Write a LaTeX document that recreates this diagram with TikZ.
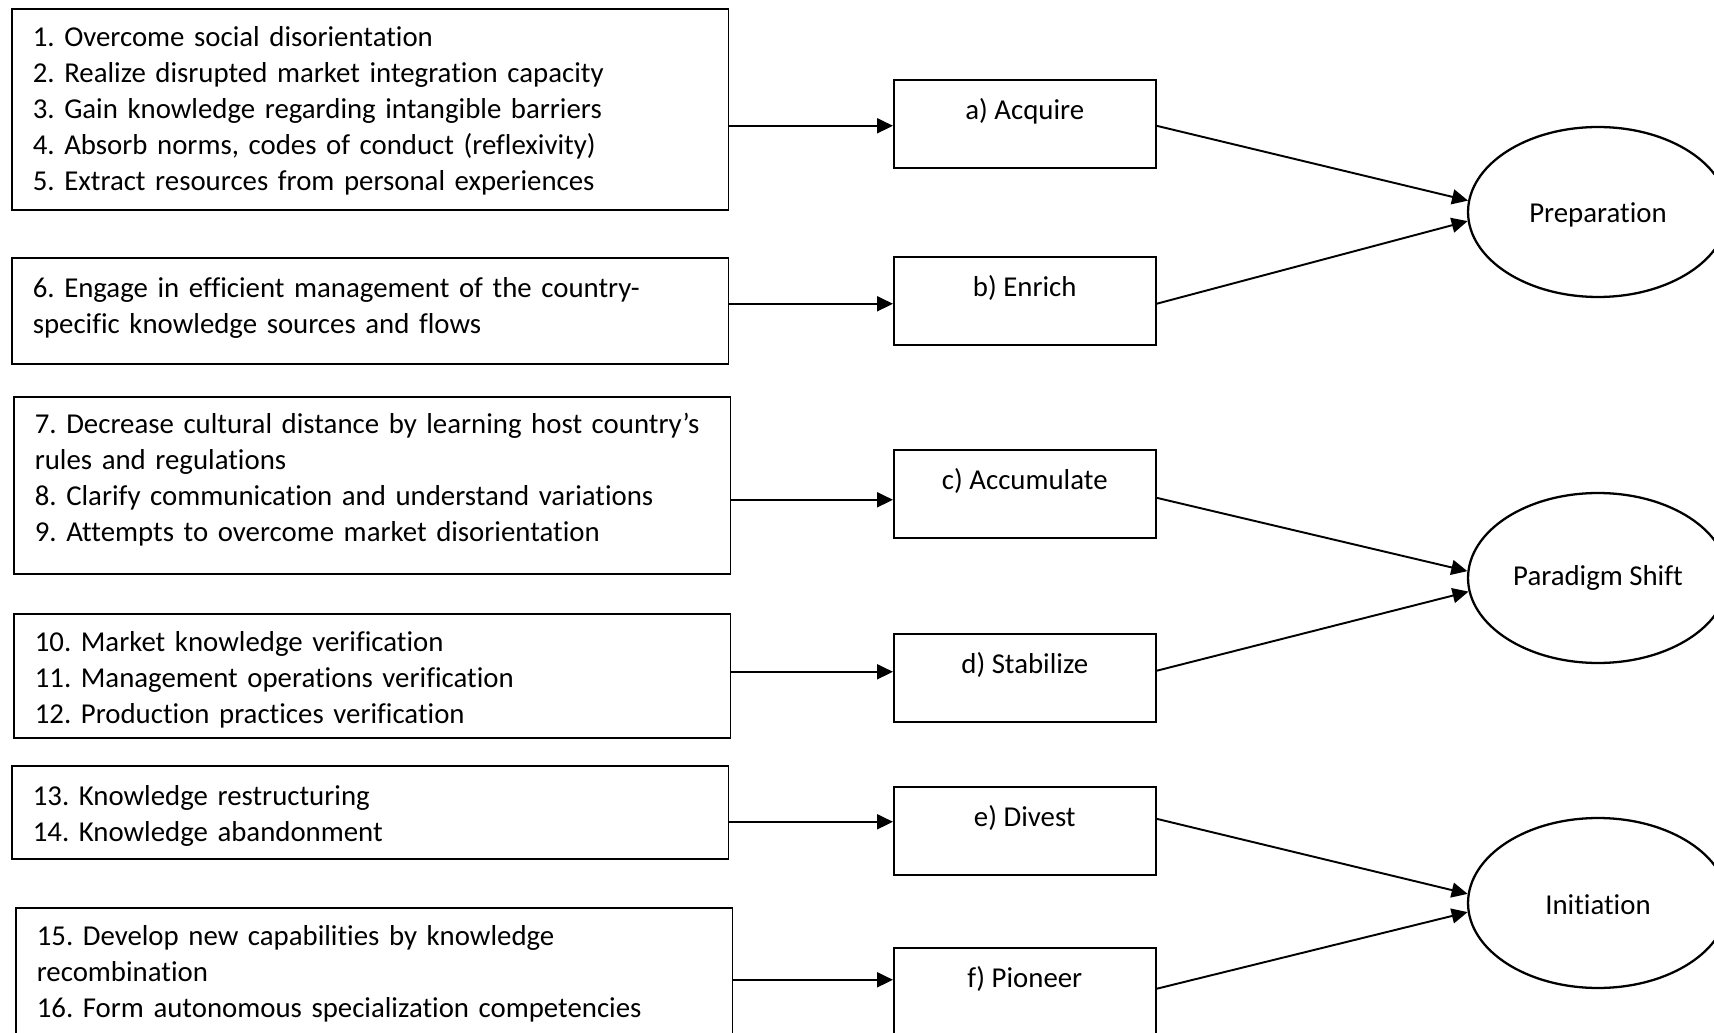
\documentclass[tikz,border=0pt]{standalone}
\usepackage{fontspec}
\setmainfont{Carlito}[Ligatures=NoCommon]
\usepackage{tikz}
\usetikzlibrary{arrows.meta,positioning,calc,shapes.geometric}
\frenchspacing
\newcommand{\diafont}{\fontsize{16.4pt}{20.5pt}\selectfont\hyphenpenalty=10000}

\begin{document}
\begin{tikzpicture}[x=0.02cm,y=-0.02cm,
        itembox/.style={draw,line width=0.9pt,anchor=north west,align=left,text width=13.5cm,inner xsep=0.42cm,font=\diafont},
        stagebox/.style={draw,line width=0.9pt,anchor=north west,align=center,minimum width=5.24cm,minimum height=1.76cm,font=\diafont},
        phase/.style={draw,ellipse,line width=1.3pt,minimum width=5.2cm,minimum height=3.4cm,inner sep=0pt,font=\diafont},
        arrow/.style={-{Triangle[length=3.2mm,width=3mm]},line width=1.1pt}
      ]
        \clip (0,0) rectangle (1714,1033);
        \useasboundingbox (0,0) rectangle (1714,1033);
        % left column
        \node[itembox,minimum height=4.02cm] (g1) at (11,8) {\rule{0pt}{13.5pt}1. Overcome social disorientation\\2. Realize disrupted market integration capacity\\3. Gain knowledge regarding intangible barriers\\4. Absorb norms, codes of conduct (reflexivity)\\5. Extract resources from personal experiences};
        \node[itembox,minimum height=2.12cm] (g2) at (11,257) {6. Engage in efficient management of the country-\\specific knowledge sources and flows\rule[-6.5pt]{0pt}{6.5pt}};
        \node[itembox,minimum height=3.54cm] (g3) at (13,396) {7. Decrease cultural distance by learning host country’s\\rules and regulations\\8. Clarify communication and understand variations\\9. Attempts to overcome market disorientation\rule[-9pt]{0pt}{9pt}};
        \node[itembox,minimum height=2.48cm] (g4) at (13,613) {\rule{0pt}{16.5pt}10. Market knowledge verification\\11. Management operations verification\\12. Production practices verification};
        \node[itembox,minimum height=1.86cm] (g5) at (11,765) {\rule{0pt}{15.3pt}13. Knowledge restructuring\\14. Knowledge abandonment};
        \node[itembox,minimum height=2.64cm] (g6) at (15,907) {15. Develop new capabilities by knowledge\\recombination\\16. Form autonomous specialization competencies};
        % middle column
        \node[stagebox] (acq) at (893,79) {a) Acquire\\[-4pt]~};
        \node[stagebox] (enr) at (893,256) {b) Enrich\\[-4pt]~};
        \node[stagebox] (acc) at (893,449) {c) Accumulate\\[-4pt]~};
        \node[stagebox] (stab) at (893,633) {d) Stabilize\\[-4pt]~};
        \node[stagebox] (div) at (893,786) {e) Divest\\[-4pt]~};
        \node[stagebox] (pion) at (893,947) {f) Pioneer\\[-4pt]~};
        % phases
        \node[phase] (prep) at (1598,212) {\rule{0pt}{14.2pt}Preparation};
        \node[phase] (shift) at (1598,578) {Paradigm Shift};
        \node[phase] (init) at (1598,903) {\rule{0pt}{12.9pt}Initiation};
        \draw[arrow] ($(g1.east |- acq.west)+(0,2)$) -- ($(acq.west)+(0,2)$);
        \draw[arrow] ($(g2.east |- enr.west)+(0,3)$) -- ($(enr.west)+(0,3)$);
        \draw[arrow] ($(g3.east |- acc.west)+(0,6)$) -- ($(acc.west)+(0,6)$);
        \draw[arrow] ($(g4.east |- stab.west)+(0,-6)$) -- ($(stab.west)+(0,-6)$);
        \draw[arrow] ($(g5.east |- div.west)+(0,-9)$) -- ($(div.west)+(0,-9)$);
        \draw[arrow] ($(g6.east |- pion.west)+(0,-12)$) -- ($(pion.west)+(0,-12)$);
        \draw[arrow] ($(acq.east)+(0,2)$) -- (prep.175.6);
        \draw[arrow] ($(enr.east)+(0,3)$) -- (prep.184.4);
        \draw[arrow] ($(acc.east)+(0,4)$) -- (shift.177.3);
        \draw[arrow] ($(stab.east)+(0,-7)$) -- (shift.186.6);
        \draw[arrow] ($(div.east)+(0,-12)$) -- (init.176);
        \draw[arrow] ($(pion.east)+(0,-3)$) -- (init.184.4);
      \end{tikzpicture}
\end{document}
